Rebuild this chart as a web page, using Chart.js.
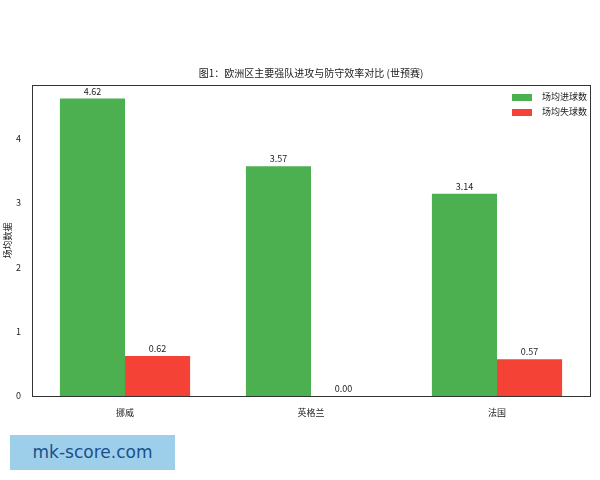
<!DOCTYPE html>
<html>
<head>
<meta charset="utf-8">
<script src="https://cdn.jsdelivr.net/npm/chart.js"></script>
<style>
  body { margin: 0; background: #fff; }
  #wrap { position: relative; width: 600px; height: 480px; }
  #mark { position: absolute; left: 10px; top: 435px; width: 165px; height: 35px; background: #9ecfea;
          color: #1a4f8a; font: 17px "DejaVu Sans", sans-serif; line-height: 35px; text-align: center; }
</style>
</head>
<body>
<div id="wrap">
  <canvas id="grafica" width="600" height="480"></canvas>
  <div id="mark">mk-score.com</div>
</div>
<script>
const equipos = ['挪威', '英格兰', '法国'];
const golesFavor = [4.62, 3.57, 3.14];
const golesContra = [0.62, 0.00, 0.57];
const ticksY = [0, 1, 2, 3, 4];

const fuente = '"Noto Sans CJK SC", sans-serif';

// marco, titulo, etiquetas y leyenda
const extras = {
    id: 'extras',
    afterDraw(chart) {
        const ctx = chart.ctx;
        const a = chart.chartArea;
        ctx.save();
        ctx.strokeStyle = '#333';
        ctx.lineWidth = 1;
        ctx.strokeRect(a.left + 0.5, a.top + 0.5, a.right - a.left, a.bottom - a.top);
        ctx.fillStyle = '#222';
        ctx.font = '10px ' + fuente;
        ctx.textAlign = 'center';
        ctx.fillText('图1：欧洲区主要强队进攻与防守效率对比 (世预赛)', (a.left + a.right) / 2, 77);
        ctx.font = '9px ' + fuente;
        chart.data.datasets.forEach((ds, i) => {
            chart.getDatasetMeta(i).data.forEach((bar, j) => {
                ctx.fillText(ds.data[j].toFixed(2), bar.x, bar.y - 4);
            });
        });
        // leyenda
        ctx.textAlign = 'left';
        ctx.textBaseline = 'middle';
        chart.data.datasets.forEach((ds, i) => {
            const y = a.top + 12 + i * 15;
            ctx.fillStyle = ds.backgroundColor;
            ctx.fillRect(a.right - 78, y - 3, 20, 7);
            ctx.fillStyle = '#222';
            ctx.fillText(ds.label, a.right - 48, y);
        });
        ctx.restore();
    }
};

new Chart(document.getElementById('grafica'), {
    type: 'bar',
    data: {
        labels: equipos,
        datasets: [
            { label: '场均进球数', data: golesFavor, backgroundColor: '#4caf50' },
            { label: '场均失球数', data: golesContra, backgroundColor: '#f44336' }
        ]
    },
    options: {
        responsive: false,
        animation: false,
        layout: { padding: { top: 85, right: 10 } },
        datasets: { bar: { barPercentage: 1, categoryPercentage: 0.7 } },
        plugins: { legend: { display: false }, tooltip: { enabled: false } },
        scales: {
            x: {
                grid: { display: false },
                border: { display: false },
                ticks: { color: '#222', font: { family: fuente, size: 9 } },
                afterFit: s => { s.height = 84; }
            },
            y: {
                min: 0, max: 4.83,
                grid: { display: false },
                border: { display: false },
                afterBuildTicks: s => { s.ticks = ticksY.map(v => ({ value: v })); },
                ticks: { color: '#222', font: { family: fuente, size: 9 } },
                title: { display: true, text: '场均数据', color: '#222', font: { family: fuente, size: 9 }, padding: 2 },
                afterFit: s => { s.width = 32; }
            }
        }
    },
    plugins: [extras]
});
</script>
</body>
</html>
